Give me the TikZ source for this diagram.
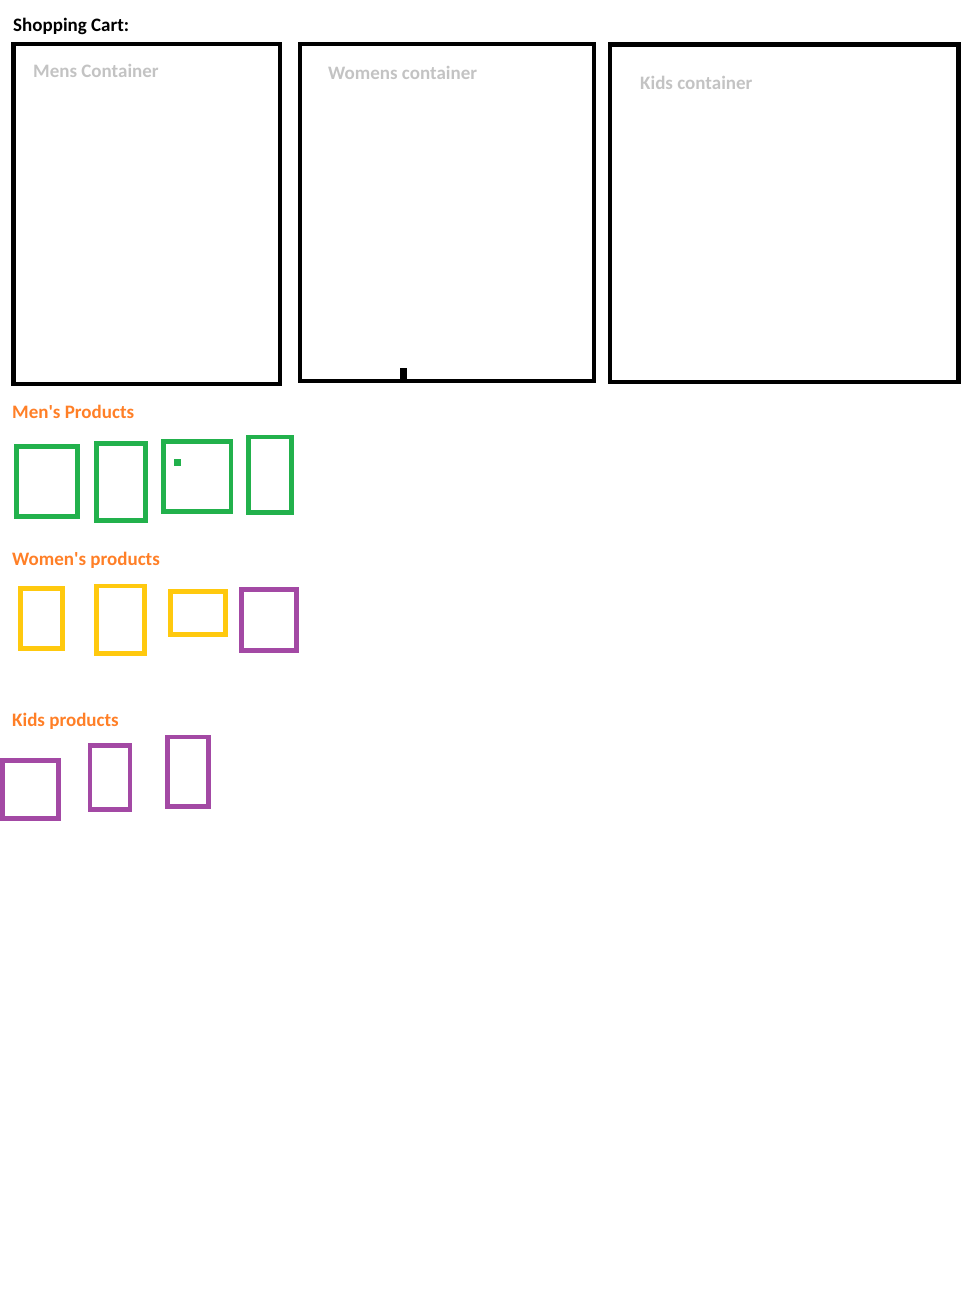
\documentclass[tikz,border=0pt]{standalone}
\usepackage{fontspec}
\setmainfont{Carlito}
\usepackage{tikz}

\definecolor{paintgray}{HTML}{C3C3C3}
\definecolor{paintorange}{HTML}{FF7F27}
\definecolor{paintgreen}{HTML}{22B14C}
\definecolor{paintyellow}{HTML}{FFC90E}
\definecolor{paintpurple}{HTML}{A349A4}

\tikzset{
    container/.style={draw=black, line width=4.5pt},
    boxlabel/.style={anchor=base west, inner sep=0pt, text=paintgray, font=\fontsize{19}{21}\selectfont\bfseries},
    grouplabel/.style={anchor=base west, inner sep=0pt, text=paintorange, font=\fontsize{19}{21}\selectfont\bfseries},
    product/.style={line width=4.7pt}
}

\begin{document}
\begin{tikzpicture}[x=1pt, y=-1pt]
    \useasboundingbox (0,0) rectangle (973,1313);

    % Title
    \node[anchor=base west, inner sep=0pt, font=\fontsize{19}{21}\selectfont\bfseries] (title) at (13, 32) {Shopping Cart:};

    % Cart containers (Black)
    \draw[container] (13.5, 44) rectangle (280, 384);   % Mens
    \draw[container] (300, 44) rectangle (594, 381);    % Womens
    \fill[black] (400, 368) rectangle (407, 381);       % small tick
    \draw[container] (610, 44.5) rectangle (958.5, 382); % Kids

    \node[boxlabel] (menslbl) at (33, 78) {Mens Container};
    \node[boxlabel] (womenslbl) at (328, 80) {Womens container};
    \node[boxlabel] (kidslbl) at (640, 90) {Kids container};

    % Men's products (Green)
    \node[grouplabel] (menprod) at (12, 418.5) {Men\textquotesingle s Products};
    \draw[product, paintgreen] (16.3, 446.3) rectangle (77.7, 516.3);
    \draw[product, paintgreen] (96.7, 443.3) rectangle (145.3, 520.3);
    \draw[product, paintgreen] (163.7, 441.3) rectangle (231, 511.7);
    \fill[paintgreen] (174, 459) rectangle (181, 466);
    \draw[product, paintgreen] (248.3, 437) rectangle (291.7, 512.7);

    % Women's products (Yellow / Purple)
    \node[grouplabel] (womenprod) at (12, 565) {Women\textquotesingle s products};
    \draw[product, paintyellow] (20.3, 588.3) rectangle (62.3, 648.3);
    \draw[product, paintyellow] (96.3, 586) rectangle (144.3, 653.7);
    \draw[product, paintyellow] (170.3, 591.3) rectangle (225.7, 634.7);
    \draw[product, paintpurple] (241.3, 589.3) rectangle (296.7, 650.7);

    % Kids products (Purple)
    \node[grouplabel] (kidsprod) at (12, 726.5) {Kids products};
    \draw[product, paintpurple] (2.3, 760.3) rectangle (58.7, 818.3);
    \draw[product, paintpurple] (90, 745.3) rectangle (130, 809.7);
    \draw[product, paintpurple] (167.3, 737) rectangle (208.7, 806.7);
\end{tikzpicture}
\end{document}
